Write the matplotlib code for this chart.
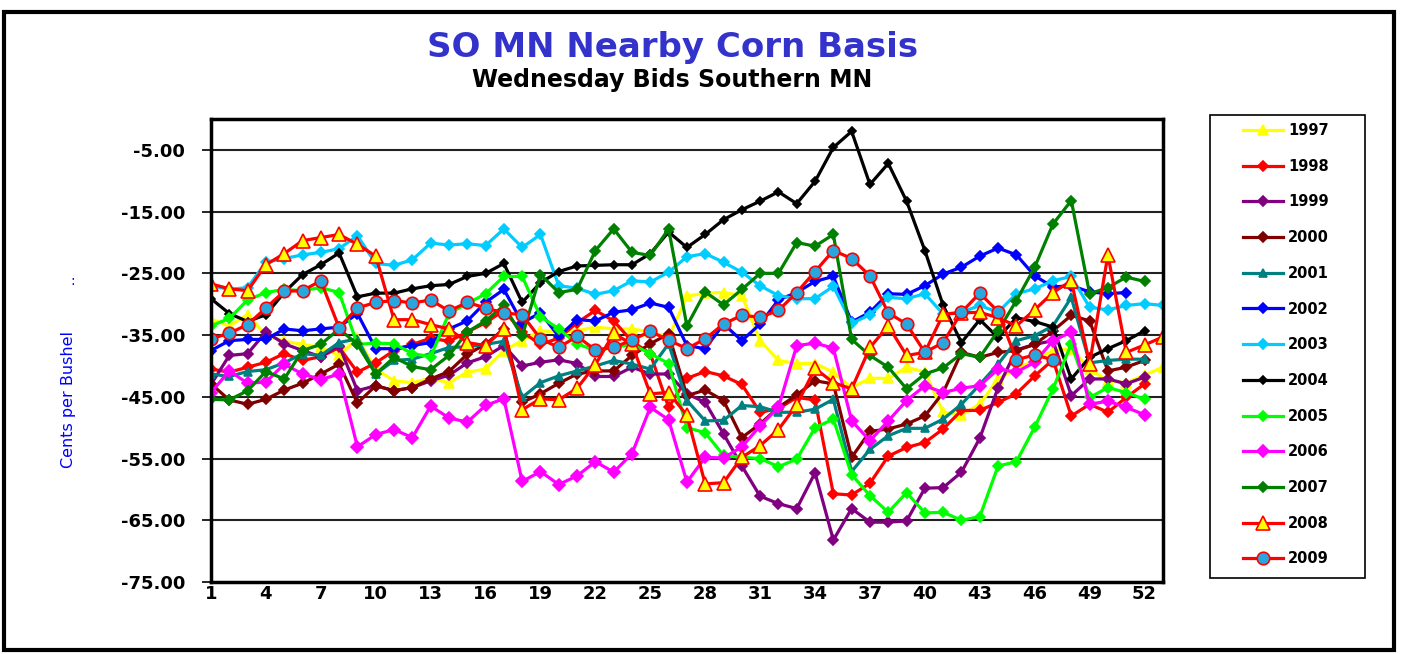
import numpy as np
import matplotlib.pyplot as plt
from matplotlib.patches import Rectangle

plt.rcParams.update({
    "font.family": ["DejaVu Sans"],
    "font.weight": "bold",
})

# weekly basis, cents per bushel
y1997 = [-32.4, -33.5, -31.7, -35.0, -36.0, -36.5, -37.0, -38.3, -35.5, -40.5,
         -42.4, -42.7, -42.0, -42.7, -41.0, -40.5, -37.5, -35.9, -34.3, -34.5,
         -34.3, -33.7, -34.0, -34.0, -34.5, -35.4, -28.7, -28.2, -28.1, -28.6,
         -35.9, -39.1, -39.6, -39.6, -41.0, -43.5, -42.0, -42.0, -40.2, -41.0,
         -47.5, -47.9, -46.2, -42.1, -40.5, -39.0, -37.5, -37.2, -40.5, -42.4,
         -42.7, -41.5, -40.2]
y1998 = [-40.5, -41.0, -40.2, -39.4, -38.0, -39.1, -38.5, -37.0, -41.0, -39.5,
         -37.5, -36.5, -35.5, -36.0, -34.5, -33.0, -31.0, -34.5, -36.5, -35.5,
         -33.0, -31.0, -32.7, -36.0, -38.0, -46.7, -42.0, -40.9, -41.6, -43.0,
         -47.5, -46.9, -45.1, -45.5, -60.7, -60.9, -59.0, -54.6, -53.2, -52.4,
         -50.2, -47.2, -47.2, -45.9, -44.5, -41.6, -39.0, -48.1, -46.2, -47.5,
         -45.1, -42.9]
y1999 = [-43.0, -38.3, -38.0, -34.5, -36.4, -37.5, -38.5, -36.7, -44.0, -43.2,
         -44.0, -43.5, -42.4, -41.5, -39.5, -38.5, -36.7, -40.0, -39.4, -39.0,
         -39.6, -41.7, -41.7, -40.2, -41.3, -41.3, -44.5, -45.9, -51.0, -56.2,
         -61.1, -62.3, -63.1, -57.3, -68.2, -63.1, -65.3, -65.3, -65.1, -59.8,
         -59.7, -57.2, -51.7, -43.5, -37.4, -36.5, -35.9, -44.8, -42.1, -42.1,
         -42.9, -41.8]
y2000 = [-42.9, -45.5, -46.2, -45.4, -43.9, -42.8, -41.3, -39.7, -46.0, -43.2,
         -44.0, -43.5, -42.1, -40.9, -38.1, -36.5, -34.0, -45.9, -44.5, -42.8,
         -41.3, -40.8, -40.8, -38.3, -36.4, -34.8, -44.8, -43.9, -45.6, -51.6,
         -49.4, -46.7, -44.7, -42.4, -42.9, -54.8, -50.6, -50.2, -49.4, -48.1,
         -44.3, -37.8, -38.6, -37.8, -37.5, -36.5, -34.3, -31.8, -32.7, -40.8,
         -40.2, -39.1]
y2001 = [-41.3, -41.7, -40.9, -40.6, -39.5, -38.0, -38.3, -36.2, -35.6, -41.3,
         -39.1, -38.9, -38.0, -37.0, -36.9, -36.5, -36.0, -45.1, -42.7, -41.6,
         -40.8, -40.0, -39.1, -39.7, -40.5, -36.4, -45.6, -48.9, -48.8, -46.4,
         -46.6, -47.5, -47.5, -47.0, -45.4, -57.1, -53.5, -51.3, -50.1, -50.1,
         -48.6, -46.2, -43.0, -39.7, -35.9, -35.1, -33.5, -28.9, -39.5, -39.1,
         -38.9, -38.9]
y2002 = [-37.5, -35.9, -35.7, -35.7, -34.0, -34.3, -34.0, -33.7, -31.5, -37.2,
         -37.2, -36.7, -36.2, -34.0, -32.7, -29.7, -27.6, -33.0, -31.4, -35.2,
         -32.5, -32.7, -31.3, -30.9, -29.8, -30.5, -36.7, -37.2, -33.2, -35.9,
         -33.2, -29.3, -28.1, -26.3, -25.5, -32.9, -31.3, -28.3, -28.4, -27.0,
         -25.1, -24.0, -22.2, -20.9, -22.0, -25.4, -27.2, -27.0, -28.0, -28.3,
         -28.1]
y2003 = [-27.0, -27.6, -27.3, -23.2, -22.6, -22.0, -21.6, -21.0, -18.9, -23.4,
         -23.7, -22.8, -20.1, -20.4, -20.2, -20.5, -17.8, -20.8, -18.7, -27.0,
         -27.4, -28.4, -27.8, -26.2, -26.4, -24.8, -22.3, -21.8, -23.2, -24.8,
         -27.0, -28.6, -29.1, -29.1, -27.1, -33.1, -31.7, -28.9, -29.1, -28.3,
         -31.6, -31.3, -30.2, -31.3, -28.3, -27.5, -26.2, -25.5, -30.5, -30.9,
         -30.2, -29.9, -30.2]
y2004 = [-29.1, -31.5, -32.8, -31.7, -28.1, -25.2, -23.6, -21.7, -28.8, -28.2,
         -28.2, -27.5, -27.0, -26.8, -25.5, -25.0, -23.4, -29.7, -26.5, -24.7,
         -23.8, -23.7, -23.6, -23.6, -21.8, -18.3, -20.8, -18.7, -16.3, -14.7,
         -13.3, -11.8, -13.7, -10.1, -4.6, -2.0, -10.6, -7.2, -13.3, -21.3,
         -30.2, -36.2, -32.5, -35.4, -32.2, -32.8, -33.7, -42.1, -38.6, -37.2,
         -35.9, -34.3]
y2005 = [-33.5, -32.3, -29.3, -28.1, -27.6, -27.8, -27.3, -28.1, -36.5, -36.3,
         -36.4, -38.0, -38.5, -31.5, -29.9, -28.3, -25.5, -25.5, -32.0, -34.0,
         -36.4, -37.5, -37.0, -36.5, -38.0, -39.6, -50.0, -50.8, -54.5, -54.8,
         -55.0, -56.3, -55.1, -50.0, -48.6, -57.6, -61.0, -63.7, -60.5, -63.8,
         -63.7, -65.0, -64.4, -56.2, -55.5, -49.9, -43.7, -36.4, -45.1, -43.5,
         -44.3, -45.4]
y2006 = [-44.3, -40.8, -42.8, -42.6, -39.7, -41.3, -42.2, -41.3, -53.1, -51.1,
         -50.3, -51.6, -46.5, -48.4, -49.1, -46.4, -45.3, -58.7, -57.1, -59.2,
         -57.8, -55.5, -57.2, -54.2, -46.7, -48.7, -58.8, -54.8, -54.9, -53.1,
         -49.7, -46.7, -36.7, -36.3, -37.1, -48.9, -52.1, -48.9, -45.6, -43.2,
         -44.3, -43.6, -43.2, -40.5, -41.0, -39.4, -35.9, -34.5, -46.2, -45.7,
         -46.7, -47.9]
y2007 = [-45.4, -45.5, -44.0, -40.9, -42.1, -37.5, -36.5, -34.0, -36.5, -41.3,
         -38.6, -40.1, -40.6, -38.3, -34.5, -32.7, -30.2, -35.2, -25.2, -28.1,
         -27.6, -21.3, -17.8, -21.6, -22.1, -17.8, -33.5, -28.0, -30.1, -27.6,
         -25.0, -25.0, -20.0, -20.6, -18.7, -35.7, -38.3, -40.2, -43.7, -41.3,
         -40.3, -38.0, -38.6, -34.3, -29.4, -24.0, -17.0, -13.2, -28.3, -27.3,
         -25.6, -26.3]
y2008 = [-26.7, -27.5, -27.8, -23.6, -21.8, -19.7, -19.2, -18.7, -20.3, -22.2,
         -32.5, -32.5, -33.3, -34.0, -36.2, -36.7, -34.0, -47.1, -45.3, -45.5,
         -43.6, -39.8, -34.7, -36.5, -44.5, -44.3, -48.0, -59.1, -58.9, -54.8,
         -52.9, -50.3, -46.3, -40.4, -42.7, -43.7, -37.0, -33.5, -38.3, -37.8,
         -31.6, -31.4, -31.3, -32.2, -33.5, -30.9, -28.1, -26.2, -39.6, -22.0,
         -37.8, -36.6, -35.3]
y2009 = [-35.6, -34.7, -33.3, -30.6, -27.9, -27.8, -26.2, -33.8, -30.6, -29.7,
         -29.4, -29.8, -29.3, -31.1, -29.7, -30.6, -31.4, -31.7, -35.6, -37.0,
         -35.2, -37.4, -37.0, -35.8, -34.4, -35.8, -37.2, -35.6, -33.2, -31.8,
         -32.1, -31.0, -28.1, -24.7, -21.3, -22.6, -25.4, -31.4, -33.2, -37.8,
         -36.2, -31.3, -28.2, -31.2, -39.0, -38.2, -39.0]

years = ["1997", "1998", "1999", "2000", "2001", "2002", "2003",
         "2004", "2005", "2006", "2007", "2008", "2009"]
values = [y1997, y1998, y1999, y2000, y2001, y2002, y2003,
          y2004, y2005, y2006, y2007, y2008, y2009]
xticks = list(range(1, 53, 3))
yticks = [-5, -15, -25, -35, -45, -55, -65, -75]

# line colour, marker, marker face, marker edge, marker size
styles = {
    "1997": ("#FFFF00", "^", "#FFFF00", "#FFFF00", 7),
    "1998": ("#FF0000", "D", "#FF0000", "#FF0000", 5),
    "1999": ("#800080", "D", "#800080", "#800080", 5),
    "2000": ("#800000", "D", "#800000", "#800000", 5),
    "2001": ("#008080", "^", "#008080", "#008080", 6),
    "2002": ("#0000FF", "D", "#0000FF", "#0000FF", 5),
    "2003": ("#00CCFF", "D", "#00CCFF", "#00CCFF", 5),
    "2004": ("#000000", "D", "#000000", "#000000", 4.5),
    "2005": ("#00FF00", "D", "#00FF00", "#00FF00", 5),
    "2006": ("#FF00FF", "D", "#FF00FF", "#FF00FF", 6.5),
    "2007": ("#008000", "D", "#008000", "#008000", 5),
    "2008": ("#FF0000", "^", "#FFFF00", "#FF0000", 10),
    "2009": ("#FF0000", "o", "#2AA6DE", "#FF0000", 9),
}

fig = plt.figure(figsize=(14.01, 6.54), dpi=100)
ax = fig.add_axes([0.1506, 0.110, 0.6794, 0.708])

for yr, vals in zip(years, values):
    c, m, fc, ec, ms = styles[yr]
    wk = np.arange(1, len(vals) + 1)
    ax.plot(wk, vals, color=c, lw=2.3, marker=m, markerfacecolor=fc,
            markeredgecolor=ec, markersize=ms, markeredgewidth=1.2, label=yr)

ax.set_xlim(1, 53)
ax.set_ylim(-75, 0)
ax.set_xticks(xticks)
ax.set_yticks(yticks)
ax.set_yticklabels([f"{v:.2f}" for v in yticks])
for v in yticks[:-1]:
    ax.axhline(v, color="#222222", lw=1.5, zorder=0)
ax.tick_params(axis="y", length=6.5, width=1.2, labelsize=13, pad=12)
ax.tick_params(axis="x", length=0, labelsize=13, pad=2)
for lab in ax.get_xticklabels() + ax.get_yticklabels():
    lab.set_fontweight("bold")
for s in ax.spines.values():
    s.set_linewidth(2.5)
    s.set_color("black")

fig.text(68 / 1401, 1 - 400 / 654, "Cents per Bushel", rotation=90,
         ha="center", va="center", color="#0000FF", fontsize=11.5,
         fontweight="normal")
fig.text(73 / 1401, 1 - 281 / 654, ":", ha="center", va="center",
         color="#0000FF", fontsize=10, fontweight="normal")

fig.text(0.48, 0.927, "SO MN Nearby Corn Basis", ha="center", va="center",
         color="#3333CC", fontsize=24.5, fontweight="bold")
fig.text(0.48, 0.877, "Wednesday Bids Southern MN", ha="center", va="center",
         color="black", fontsize=17, fontweight="bold")

leg = ax.legend(loc="upper left", bbox_to_anchor=(1243 / 1401, 1 - 123 / 654),
                bbox_transform=fig.transFigure, frameon=False,
                fontsize=10.5, labelspacing=1.42, handlelength=2.75,
                borderpad=0, borderaxespad=0, handletextpad=0.35)
fig.patches.append(Rectangle((1210 / 1401, 1 - 578 / 654), 155 / 1401,
                             463 / 654, transform=fig.transFigure,
                             fill=False, lw=1.2, edgecolor="black"))

fig.patches.append(Rectangle((0.003, 0.006), 0.992, 0.975,
                             transform=fig.transFigure, fill=False,
                             lw=3, edgecolor="black"))

fig.savefig("out.png", dpi=100)
